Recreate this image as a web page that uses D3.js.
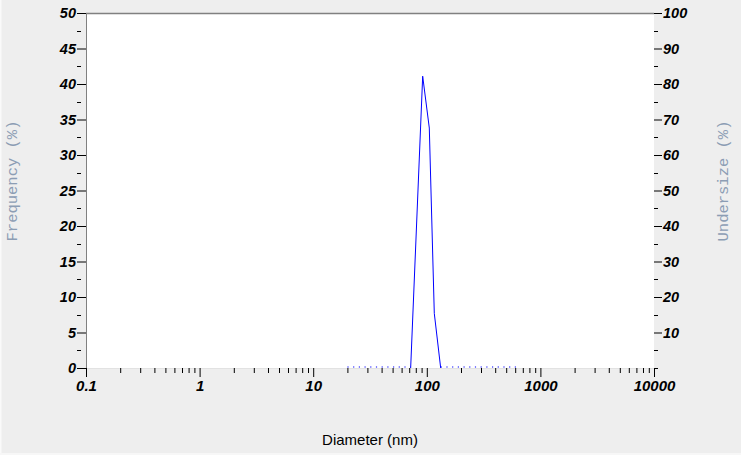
<!DOCTYPE html>
<html><head><meta charset="utf-8">
<script src="https://cdn.jsdelivr.net/npm/d3@7"></script>
<style>
html,body{margin:0;padding:0;background:#eeeeee;}
svg{display:block;}
</style></head>
<body>
<svg id="chart" width="741" height="455"></svg>
<script>
// Data
const diameters = [20, 72.1, 92.0, 105.2, 116.4, 132.5, 620];
const frequency = [0, 0, 41.1, 33.8, 7.7, 0, 0];
const xTickValues = [0.1, 1, 10, 100, 1000, 10000];
const xTickLabels = ["0.1", "1", "10", "100", "1000", "10000"];
const yLeftTicks = [0, 5, 10, 15, 20, 25, 30, 35, 40, 45, 50];
const yRightTicks = [10, 20, 30, 40, 50, 60, 70, 80, 90, 100];

const svg = d3.select("#chart");
const W = 741, H = 455;
const m = {left: 86, right: 654, top: 13, bottom: 368};

svg.append("rect").attr("x",0).attr("y",0).attr("width",W).attr("height",H).attr("fill","#eeeeee");
svg.append("rect").attr("x",0).attr("y",0).attr("width",1.5).attr("height",H).attr("fill","#fafafa");
svg.append("rect").attr("x",0).attr("y",H-2).attr("width",W).attr("height",2).attr("fill","#f7f7f7");

const x = d3.scaleLog().domain([0.1, 10000]).range([m.left, m.right]);
const yL = d3.scaleLinear().domain([0, 50]).range([m.bottom, m.top]);
const yR = d3.scaleLinear().domain([0, 100]).range([m.bottom, m.top]);

// plot area
svg.append("rect").attr("x", m.left).attr("y", m.top)
  .attr("width", m.right - m.left).attr("height", m.bottom - m.top).attr("fill", "#ffffff");
// frame
svg.append("line").attr("x1", m.left).attr("x2", m.right).attr("y1", m.top+0.5).attr("y2", m.top+0.5)
  .attr("stroke", "#808080").attr("stroke-width", 1.5);
svg.append("line").attr("x1", m.left+0.5).attr("x2", m.left+0.5).attr("y1", m.top).attr("y2", m.bottom)
  .attr("stroke", "#808080").attr("stroke-width", 1);
svg.append("line").attr("x1", m.left).attr("x2", m.right).attr("y1", m.bottom+0.5).attr("y2", m.bottom+0.5)
  .attr("stroke", "#e2e2e2").attr("stroke-width", 1);

const tickFont = "'Liberation Sans', Arial, sans-serif";

// Bottom axis
const minorX = [];
for (let e = -1; e < 4; e++) for (let k = 2; k <= 9; k++) minorX.push(k * Math.pow(10, e));
const xAxis = d3.axisBottom(x).tickValues(xTickValues).tickFormat((d,i)=>xTickLabels[i]).tickSize(9).tickPadding(3);
const gx = svg.append("g").attr("transform", `translate(0,${m.bottom})`).call(xAxis);
gx.select(".domain").remove();
gx.selectAll(".tick line").attr("stroke", "#000");
gx.selectAll(".tick text").attr("font-family", tickFont).attr("font-size", 15)
  .attr("font-weight", "bold").attr("font-style", "italic").attr("fill", "#000");
const gxm = svg.append("g").attr("transform", `translate(0,${m.bottom})`)
  .call(d3.axisBottom(x).tickValues(minorX).tickFormat("").tickSize(5));
gxm.select(".domain").remove();
gxm.selectAll(".tick line").attr("stroke", "#000");

// Left axis
const gyl = svg.append("g").attr("transform", `translate(${m.left},0)`)
  .call(d3.axisLeft(yL).tickValues(yLeftTicks).tickSize(9).tickPadding(1));
gyl.select(".domain").remove();
gyl.selectAll(".tick line").attr("stroke", "#000");
gyl.selectAll(".tick text").attr("font-family", tickFont).attr("font-size", 14.5)
  .attr("font-weight", "bold").attr("font-style", "italic").attr("fill", "#000");
const minorL = d3.range(2.5, 50, 5);
svg.append("g").selectAll("line").data(minorL).join("line")
  .attr("x1", m.left - 9).attr("x2", m.left - 5)
  .attr("y1", d => Math.round(yL(d)) + 0.5).attr("y2", d => Math.round(yL(d)) + 0.5)
  .attr("stroke", "#000");

// Right axis
const gyr = svg.append("g").attr("transform", `translate(${m.right},0)`)
  .call(d3.axisRight(yR).tickValues(yRightTicks).tickSize(8).tickPadding(1));
gyr.select(".domain").remove();
gyr.selectAll(".tick line").attr("stroke", "#000");
gyr.selectAll(".tick text").attr("font-family", tickFont).attr("font-size", 14.5)
  .attr("font-weight", "bold").attr("font-style", "italic").attr("fill", "#000");
const minorR = d3.range(5, 100, 10);
svg.append("g").selectAll("line").data(minorR.concat([0])).join("line")
  .attr("x1", m.right).attr("x2", m.right + 4)
  .attr("y1", d => Math.round(yR(d)) + 0.5).attr("y2", d => Math.round(yR(d)) + 0.5)
  .attr("stroke", "#000");

// data line
const pts = diameters.map((d, i) => ({d, f: frequency[i]}));
const line = d3.line().x(p => x(p.d)).y(p => yL(p.f));
for (let i = 0; i < pts.length - 1; i++) {
  const a = pts[i], b = pts[i+1];
  const zero = a.f === 0 && b.f === 0;
  svg.append("path").datum([a, b]).attr("d", line)
    .attr("fill", "none").attr("stroke", "#0000ff").attr("stroke-width", zero ? 1.2 : 1)
    .attr("stroke-dasharray", zero ? "1.2,4.5" : null)
    .attr("transform", zero ? "translate(0,-1)" : null);
}

// axis titles
svg.append("text").attr("x", 370).attr("y", 445).attr("text-anchor", "middle")
  .attr("font-family", "'Liberation Sans', Arial, sans-serif").attr("font-size", 15).attr("fill", "#000")
  .text("Diameter (nm)");
svg.append("text").attr("transform", `translate(17,181) rotate(-90)`)
  .attr("text-anchor", "middle").attr("font-family", "'Liberation Mono', 'Courier New', monospace")
  .attr("font-size", 15.5).attr("fill", "#8c9db4").text("Frequency (%)");
svg.append("text").attr("transform", `translate(728,181) rotate(-90)`)
  .attr("text-anchor", "middle").attr("font-family", "'Liberation Mono', 'Courier New', monospace")
  .attr("font-size", 15.5).attr("fill", "#8c9db4").text("Undersize (%)");
</script>
</body></html>
